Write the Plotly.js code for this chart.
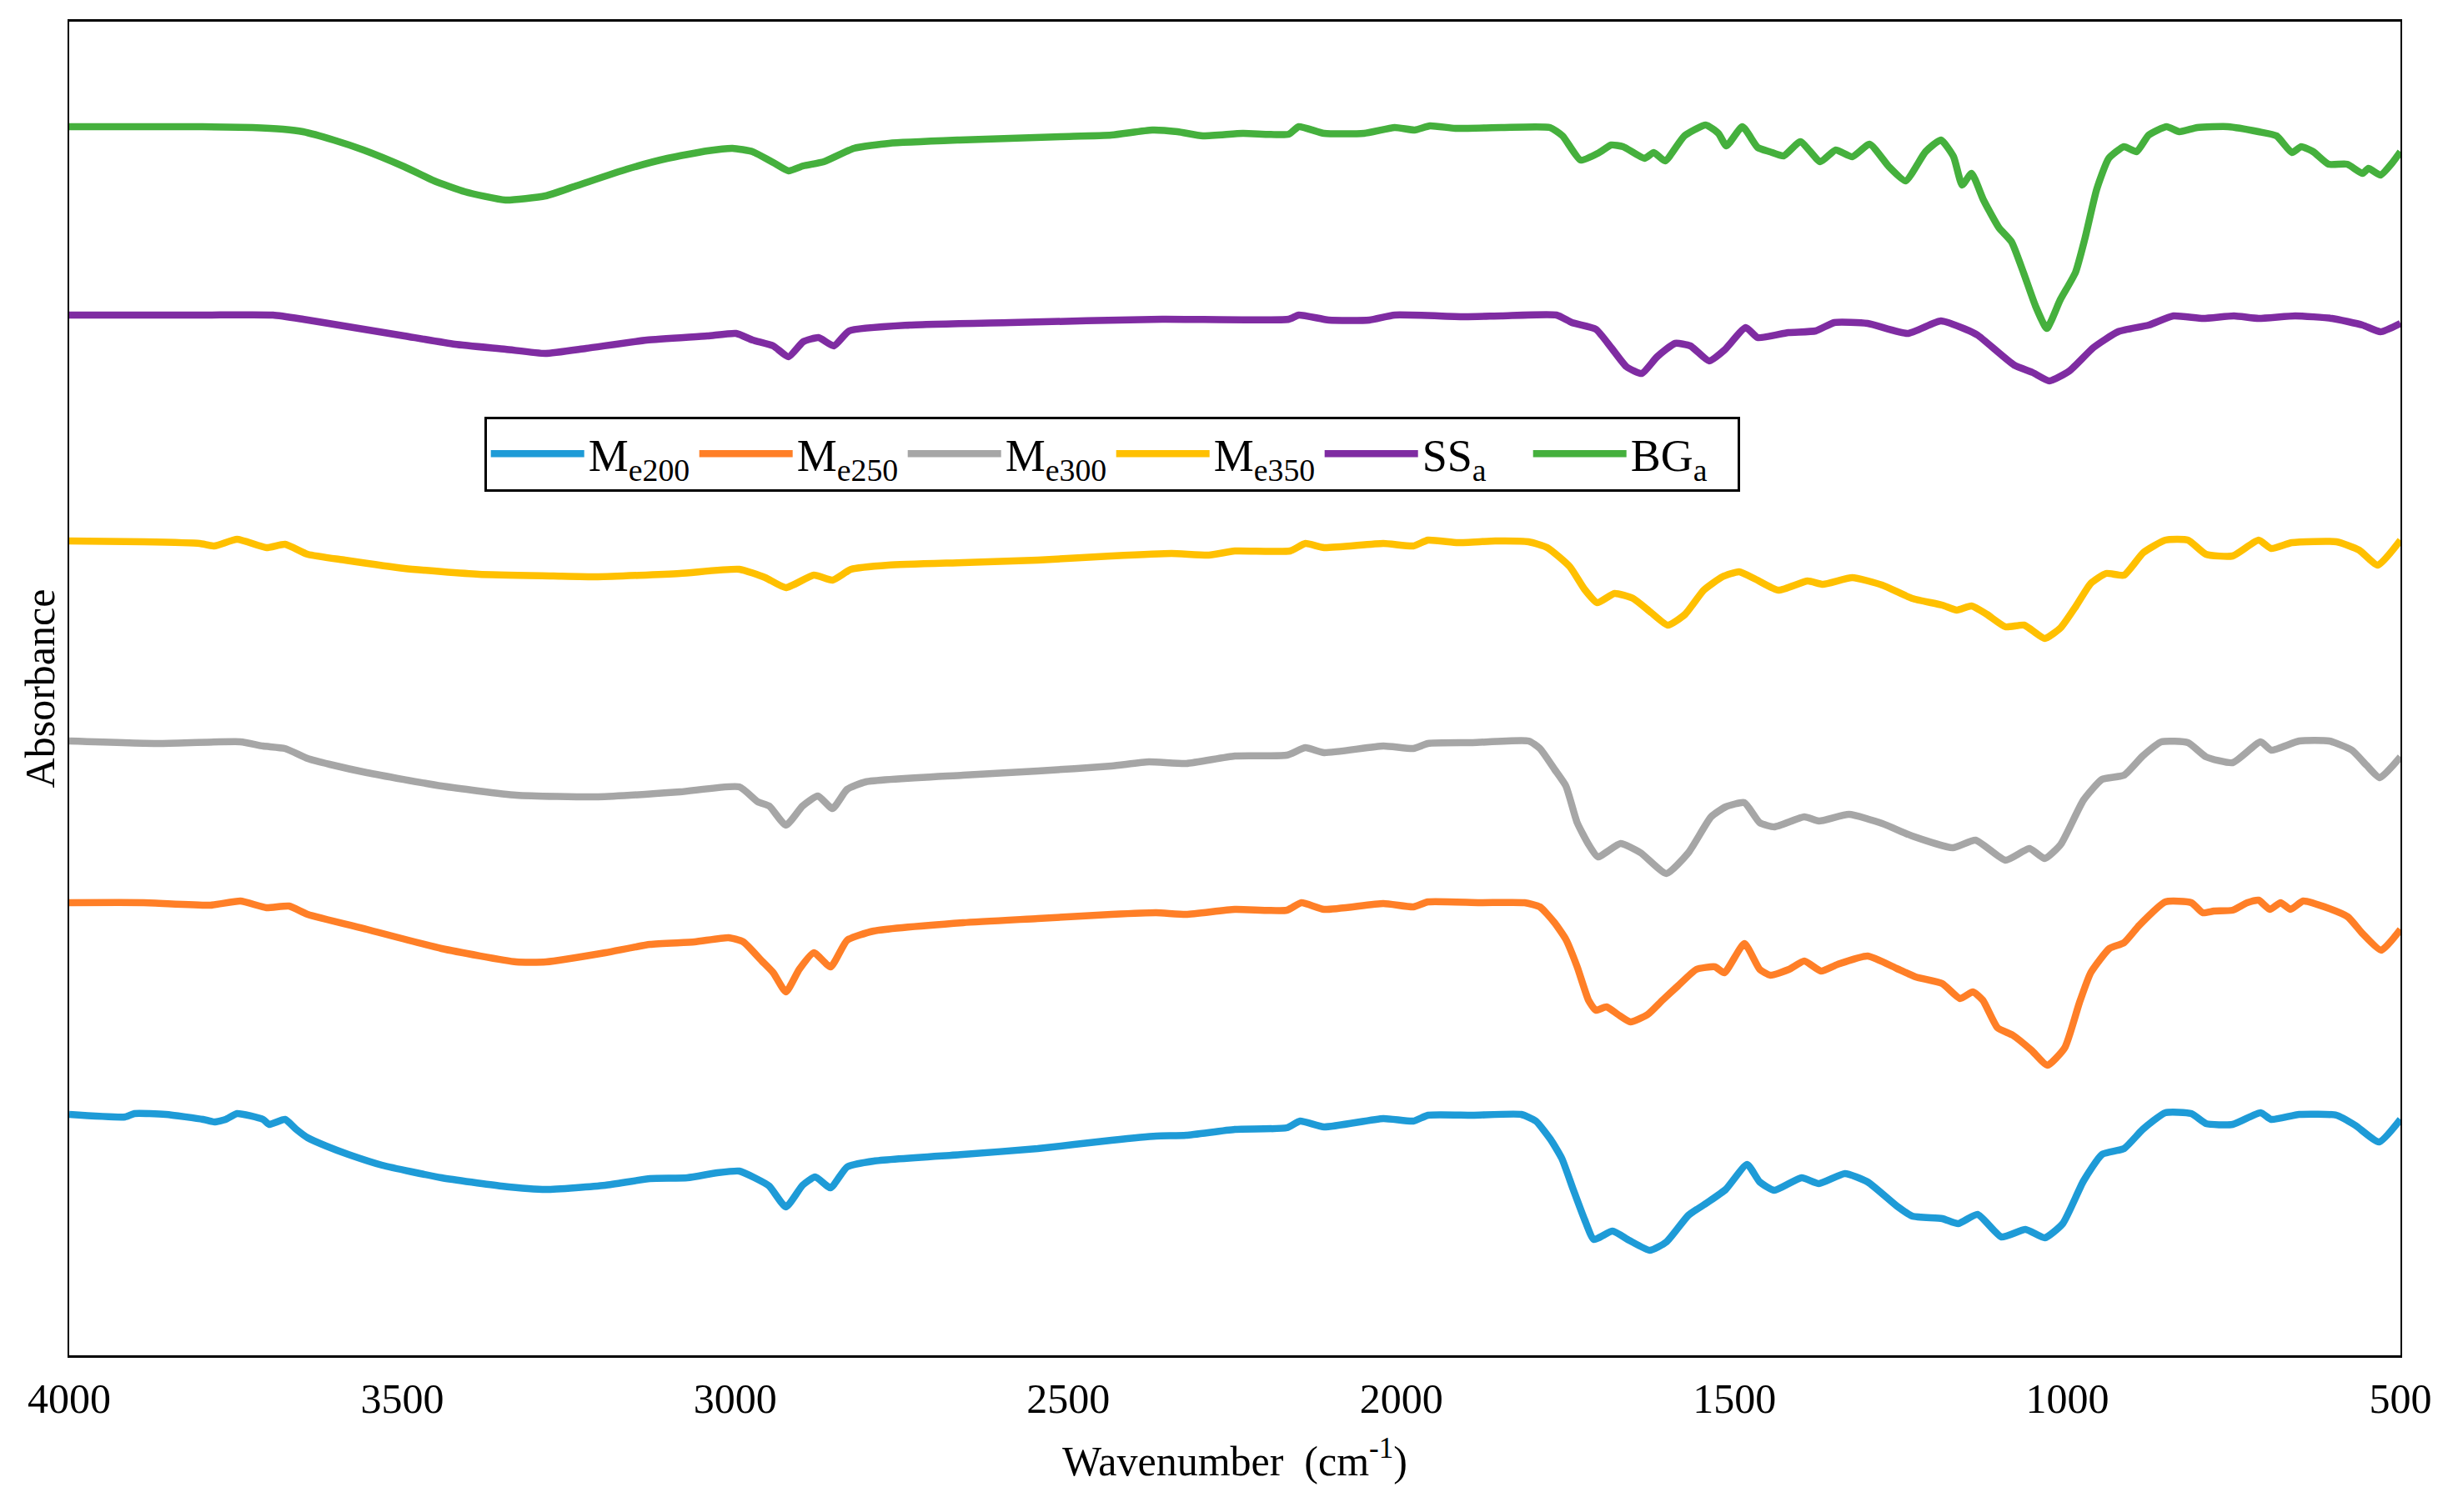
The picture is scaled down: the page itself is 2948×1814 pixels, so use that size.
<!DOCTYPE html>
<html>
<head>
<meta charset="utf-8">
<script src="https://cdn.plot.ly/plotly-3.0.1.min.js"></script>
<style>html,body{margin:0;padding:0;background:#fff;}#chart{width:2948px;height:1814px;}</style>
</head>
<body>
<div id="chart"></div>
<script>
// Wavenumber (cm-1) and offset absorbance values
const bgaWn = [4000,3800,3725,3679,3649,3603,3558,3497,3452,3406,3345,3285,3239,3163,3102,3042,3004,2974,2943,2920,2898,2867,2822,2769,2663,2511,2435,2374,2336,2298,2238,2169,2154,2116,2056,2010,1980,1957,1919,1850,1777,1758,1731,1703,1685,1667,1635,1621,1604,1575,1543,1524,1512,1488,1465,1447,1426,1401,1371,1348,1323,1297,1268,1243,1213,1190,1171,1158,1144,1126,1103,1084,1066,1048,1031,1011,988,974,956,938,915,896,878,851,832,805,759,713,686,663,649,631,608,580,557,548,530,512,500];
const bgaAbs = [14.74,14.74,14.73,14.71,14.68,14.58,14.46,14.26,14.09,13.96,13.86,13.91,14.03,14.23,14.36,14.45,14.48,14.44,14.31,14.21,14.27,14.32,14.48,14.54,14.58,14.62,14.64,14.70,14.68,14.63,14.66,14.65,14.74,14.66,14.66,14.73,14.70,14.75,14.72,14.73,14.73,14.63,14.34,14.43,14.52,14.50,14.36,14.43,14.33,14.63,14.76,14.66,14.51,14.74,14.49,14.44,14.39,14.56,14.32,14.46,14.38,14.53,14.26,14.09,14.44,14.58,14.38,14.04,14.18,13.86,13.53,13.36,12.99,12.59,12.32,12.66,12.99,13.39,13.99,14.36,14.50,14.44,14.64,14.74,14.68,14.73,14.74,14.68,14.63,14.43,14.50,14.44,14.29,14.29,14.18,14.24,14.16,14.31,14.44];

const ssaWn = [4000,3800,3694,3649,3573,3497,3421,3345,3285,3224,3133,3042,2999,2974,2943,2920,2898,2875,2852,2829,2738,2587,2359,2169,2154,2109,2048,2010,1904,1850,1767,1744,1708,1685,1662,1639,1616,1589,1566,1538,1515,1483,1465,1419,1378,1350,1300,1240,1190,1153,1135,1080,1052,1027,997,961,924,878,841,796,750,713,658,603,557,530,500];
const ssaAbs = [12.48,12.48,12.48,12.43,12.33,12.23,12.13,12.07,12.02,12.08,12.18,12.23,12.26,12.18,12.11,11.98,12.16,12.21,12.11,12.29,12.36,12.39,12.43,12.43,12.48,12.42,12.42,12.48,12.46,12.47,12.48,12.39,12.31,12.09,11.86,11.78,11.98,12.14,12.11,11.93,12.06,12.33,12.21,12.27,12.29,12.39,12.38,12.26,12.41,12.31,12.24,11.88,11.79,11.69,11.81,12.09,12.28,12.36,12.47,12.44,12.47,12.44,12.47,12.44,12.36,12.28,12.38];

const me350Wn = [4000,3888,3804,3782,3748,3704,3676,3642,3586,3497,3385,3273,3206,3083,2994,2955,2924,2882,2854,2826,2770,2658,2546,2435,2345,2289,2250,2167,2144,2116,2027,1982,1960,1915,1859,1809,1781,1747,1725,1706,1680,1652,1625,1600,1574,1546,1518,1493,1468,1434,1390,1367,1323,1278,1233,1188,1166,1144,1121,1093,1065,1034,1010,987,965,942,915,886,853,819,792,752,713,694,663,596,562,534,500];
const me350Abs = [9.77,9.76,9.74,9.71,9.79,9.69,9.73,9.61,9.54,9.44,9.37,9.35,9.34,9.38,9.43,9.33,9.21,9.36,9.30,9.43,9.48,9.51,9.54,9.59,9.62,9.60,9.65,9.65,9.74,9.69,9.74,9.71,9.78,9.75,9.77,9.76,9.69,9.46,9.19,9.03,9.14,9.08,8.91,8.76,8.89,9.18,9.34,9.40,9.31,9.18,9.29,9.25,9.33,9.24,9.08,9.00,8.94,8.99,8.89,8.74,8.76,8.60,8.73,8.99,9.26,9.38,9.36,9.63,9.78,9.78,9.61,9.59,9.78,9.68,9.75,9.76,9.66,9.48,9.78];

const me300Wn = [4000,3866,3743,3709,3676,3642,3609,3553,3441,3329,3206,3083,2994,2966,2949,2924,2899,2876,2854,2832,2804,2658,2546,2435,2379,2323,2250,2172,2144,2116,2027,1982,1960,1893,1809,1792,1770,1753,1736,1719,1705,1671,1641,1602,1569,1535,1513,1485,1462,1440,1395,1373,1328,1278,1233,1172,1138,1093,1057,1034,1010,976,948,915,887,859,819,792,752,710,694,652,607,573,551,531,500];
const me300Abs = [7.37,7.34,7.36,7.31,7.28,7.16,7.09,6.99,6.83,6.72,6.70,6.76,6.82,6.64,6.59,6.36,6.59,6.71,6.56,6.79,6.88,6.96,7.01,7.07,7.12,7.10,7.19,7.20,7.29,7.23,7.31,7.28,7.34,7.35,7.37,7.28,7.03,6.83,6.39,6.13,5.98,6.14,6.03,5.78,6.03,6.46,6.58,6.63,6.39,6.34,6.46,6.41,6.49,6.38,6.23,6.09,6.18,5.94,6.08,5.96,6.13,6.66,6.91,6.96,7.19,7.36,7.35,7.18,7.11,7.36,7.26,7.37,7.37,7.26,7.08,6.93,7.18];

const me250Wn = [4000,3888,3788,3743,3704,3670,3642,3553,3441,3329,3284,3195,3128,3061,3010,2988,2960,2943,2924,2904,2882,2857,2832,2792,2658,2546,2435,2368,2323,2250,2172,2150,2116,2027,1982,1960,1882,1815,1792,1770,1753,1736,1719,1708,1692,1675,1656,1630,1608,1585,1557,1529,1515,1485,1462,1446,1418,1395,1370,1345,1300,1256,1228,1188,1161,1142,1127,1105,1082,1054,1030,1004,982,965,937,915,892,853,814,797,780,752,730,713,696,680,665,646,607,579,557,529,500];
const me250Abs = [5.43,5.43,5.40,5.45,5.37,5.39,5.29,5.11,4.88,4.72,4.72,4.83,4.93,4.96,5.01,4.96,4.73,4.59,4.36,4.63,4.83,4.66,4.98,5.09,5.19,5.24,5.29,5.31,5.29,5.35,5.34,5.43,5.35,5.42,5.38,5.44,5.43,5.43,5.38,5.19,4.99,4.66,4.26,4.14,4.18,4.09,4.00,4.09,4.26,4.43,4.63,4.66,4.59,4.94,4.63,4.56,4.63,4.73,4.61,4.69,4.79,4.64,4.54,4.46,4.28,4.36,4.26,3.93,3.84,3.66,3.48,3.69,4.23,4.59,4.88,4.95,5.16,5.44,5.43,5.31,5.33,5.34,5.43,5.46,5.35,5.43,5.35,5.45,5.36,5.26,5.06,4.86,5.11];

const me200Wn = [4000,3916,3902,3855,3799,3782,3765,3748,3709,3700,3676,3659,3642,3614,3581,3530,3441,3351,3284,3195,3128,3072,3027,2994,2971,2949,2924,2899,2880,2857,2832,2792,2658,2546,2435,2368,2323,2250,2172,2152,2116,2027,1982,1960,1893,1820,1798,1776,1759,1742,1725,1711,1683,1658,1627,1602,1569,1541,1513,1481,1462,1440,1399,1373,1334,1300,1256,1233,1188,1164,1135,1099,1063,1034,1007,976,948,915,887,853,814,792,752,710,694,652,596,568,532,500];
const me200Abs = [2.89,2.86,2.90,2.89,2.83,2.80,2.83,2.90,2.83,2.77,2.83,2.71,2.61,2.51,2.41,2.28,2.13,2.03,1.99,2.04,2.12,2.13,2.19,2.21,2.13,2.03,1.78,2.04,2.14,2.01,2.26,2.33,2.41,2.48,2.58,2.63,2.64,2.71,2.73,2.81,2.74,2.84,2.81,2.88,2.88,2.89,2.81,2.59,2.36,1.99,1.63,1.39,1.49,1.38,1.26,1.36,1.68,1.83,1.99,2.29,2.08,1.98,2.13,2.06,2.18,2.08,1.79,1.67,1.64,1.58,1.69,1.42,1.51,1.41,1.58,2.09,2.41,2.48,2.71,2.91,2.90,2.78,2.77,2.91,2.83,2.89,2.88,2.76,2.56,2.83];

const seriesNames = ['M<sub>e200</sub>','M<sub>e250</sub>','M<sub>e300</sub>','M<sub>e350</sub>','SS<sub>a</sub>','BG<sub>a</sub>'];
const xTickVals = [4000,3500,3000,2500,2000,1500,1000,500];

const xs = [me200Wn, me250Wn, me300Wn, me350Wn, ssaWn, bgaWn];
const ys = [me200Abs, me250Abs, me300Abs, me350Abs, ssaAbs, bgaAbs];
const colors = ['#1E9BD7','#FF7F27','#A6A6A6','#FFC000','#7F2CA2','#45B03D'];

const FONT = 'Liberation Serif, Times New Roman, serif';

const traces = seriesNames.map((n, i) => ({
  type: 'scatter', mode: 'lines', name: n,
  x: xs[i], y: ys[i],
  line: {color: colors[i], width: 8.5, shape: 'spline', smoothing: 0.5}
}));

const layout = {
  width: 2948, height: 1814,
  paper_bgcolor: '#ffffff', plot_bgcolor: '#ffffff',
  margin: {l: 83, r: 69, t: 26, b: 188, pad: 0},
  showlegend: true,
  legend: {
    orientation: 'h', x: 0.178, y: 0.704, xanchor: 'left', yanchor: 'top',
    bordercolor: '#000000', borderwidth: 3, bgcolor: '#ffffff',
    font: {family: FONT, size: 54, color: '#000000'},
    itemwidth: 112, entrywidth: 123, entrywidthmode: 'pixels', traceorder: 'normal'
  },
  xaxis: {
    range: [4000, 500], tickvals: xTickVals, ticktext: xTickVals.map(String),
    showgrid: false, zeroline: false, showline: true, mirror: true,
    linecolor: '#000000', linewidth: 3, ticks: '',
    tickfont: {family: FONT, size: 50, color: '#000000'},
    ticklabelstandoff: 6,
    title: {text: 'Wavenumber  (cm<sup>-1</sup>)', font: {family: FONT, size: 50, color: '#000000'}, standoff: 30},
    automargin: false
  },
  yaxis: {
    range: [0, 16], showticklabels: false, ticks: '',
    showgrid: false, zeroline: false, showline: true, mirror: true,
    linecolor: '#000000', linewidth: 2,
    title: {text: 'Absorbance', font: {family: FONT, size: 50, color: '#000000'}, standoff: 0},
    automargin: false
  }
};

Plotly.newPlot('chart', traces, layout, {displayModeBar: false, staticPlot: true});
</script>
</body>
</html>
